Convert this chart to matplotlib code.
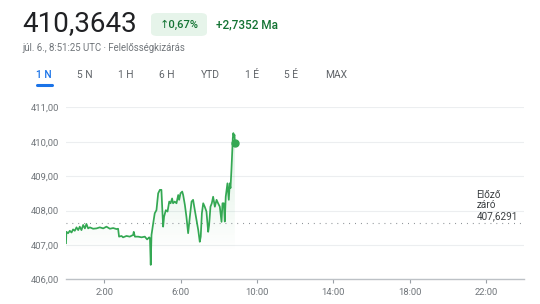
import numpy as np
import matplotlib.pyplot as plt
from matplotlib.patches import FancyBboxPatch
from matplotlib.colors import LinearSegmentedColormap

plt.rcParams['font.family'] = ['Roboto', 'DejaVu Sans']

# price path (hours UTC, value)
hours = [0.0, 0.02, 0.11, 0.2, 0.29, 0.37, 0.46, 0.55, 0.64, 0.72, 0.81, 0.9, 0.99,
         1.07, 1.16, 1.25, 1.42, 1.6, 1.77, 1.95, 2.12, 2.3, 2.47, 2.65, 2.73, 2.78,
         2.91, 2.99, 3.17, 3.34, 3.52, 3.55, 3.61, 3.78, 3.96, 4.13, 4.25, 4.36, 4.4,
         4.44, 4.48, 4.57, 4.65, 4.74, 4.83, 4.92, 5.0, 5.04, 5.09, 5.14, 5.23, 5.32,
         5.41, 5.48, 5.56, 5.61, 5.7, 5.79, 5.88, 5.93, 6.0, 6.09, 6.14, 6.23, 6.31,
         6.4, 6.49, 6.58, 6.66, 6.75, 6.84, 6.93, 7.01, 7.06, 7.12, 7.19, 7.27, 7.36,
         7.45, 7.5, 7.57, 7.64, 7.71, 7.8, 7.89, 7.97, 8.06, 8.15, 8.2, 8.27, 8.32,
         8.37, 8.46, 8.53, 8.58, 8.62, 8.67, 8.71, 8.74, 8.77, 8.8, 8.83, 8.85]
prices = [407.05, 407.38, 407.34, 407.41, 407.36, 407.45, 407.41, 407.51, 407.43, 407.53,
          407.43, 407.58, 407.48, 407.61, 407.48, 407.51, 407.47, 407.48, 407.51, 407.48,
          407.53, 407.47, 407.49, 407.46, 407.47, 407.24, 407.26, 407.22, 407.26, 407.24,
          407.29, 407.38, 407.24, 407.24, 407.22, 407.24, 407.16, 407.22, 407.19,
          406.42, 407.29, 407.63, 407.92, 408.01, 408.5, 408.6, 408.6, 408.11, 407.53,
          407.82, 408.01, 407.97, 408.26, 408.21, 408.35, 408.21, 408.26, 408.21, 408.45,
          408.31, 408.5, 408.55, 408.45, 408.16, 407.82, 407.34, 407.82, 408.26, 408.31,
          408.01, 407.72, 407.43, 407.09, 407.24, 407.92, 408.21, 408.11, 407.97, 407.38,
          407.58, 408.11, 408.21, 408.4, 408.11, 408.31, 408.21, 408.11, 407.67, 408.21,
          408.21, 407.68, 408.4, 408.79, 408.31, 408.79, 408.65, 409.2, 409.7, 410.1,
          410.25, 410.15, 410.2, 409.97]

prev_close = 407.6291
y_ticks = [406, 407, 408, 409, 410, 411]
x_ticks = [2, 6, 10, 14, 18, 22]
x_labels = ['2:00', '6:00', '10:00', '14:00', '18:00', '22:00']
tabs = ['1 N', '5 N', '1 H', '6 H', 'YTD', '1 É', '5 É', 'MAX']
tab_x = [44, 84.5, 125.5, 166.5, 210, 252, 291, 336.5]

green = '#34a853'
grey = '#70757a'

fig = plt.figure(figsize=(5.4, 3.04), dpi=100)
W, H = 540, 304

# header
fig.text(22 / W, 1 - 24 / H, '410,3643', fontsize=20, color='#202124', va='center')
badge = FancyBboxPatch((151 / W, 1 - 36 / H), 56 / W, 23 / H,
                       boxstyle='round,pad=0,rounding_size=0.012',
                       transform=fig.transFigure, fc='#e6f4ea', ec='none')
fig.patches.append(badge)
fig.text(179 / W, 1 - 24.5 / H, '↑0,67%', fontsize=8, color='#137333',
         ha='center', va='center', fontweight='medium')
fig.text(216 / W, 1 - 24.5 / H, '+2,7352 Ma', fontsize=8.5, color='#137333',
         va='center', fontweight='medium')
fig.text(22 / W, 1 - 48 / H, 'júl. 6., 8:51:25 UTC · Felelősségkizárás',
         fontsize=6.9, color=grey, va='center')

for t, x in zip(tabs, tab_x):
    fig.text(x / W, 1 - 75 / H, t, fontsize=7.4, ha='center', va='center',
             color='#1a73e8' if t == '1 N' else '#5f6368',
             fontweight='medium' if t == '1 N' else 'normal')
fig.add_artist(plt.Line2D([37 / W, 52 / W], [1 - 85 / H, 1 - 85 / H],
                          color='#1a73e8', lw=2.2, solid_capstyle='round'))

# chart
ax = fig.add_axes([66 / W, 1 - 279.3 / H, 458 / W, 172 / H])
ax.set_xlim(0, 24)
ax.set_ylim(406, 411)

# gradient fill under the line
top = max(prices)
cmap = LinearSegmentedColormap.from_list('g', [(0.2, 0.66, 0.33, 0.0), (0.2, 0.66, 0.33, 0.17)])
grad = np.linspace(0, 1, 200).reshape(-1, 1)
im = ax.imshow(grad, cmap=cmap, extent=[hours[0], hours[-1], 406.8, top],
               origin='lower', aspect='auto', zorder=1)
poly = ax.fill_between(hours, prices, 406, color='none', lw=0)
im.set_clip_path(poly.get_paths()[0], transform=ax.transData)

ax.plot(hours, prices, color=green, lw=1.25, zorder=3, solid_joinstyle='round')
ax.plot(hours[-1], prices[-1], 'o', color=green, ms=5, zorder=4)

ax.axhline(prev_close, color='#80868b', lw=0.8, ls=(0, (0.8, 4.5)), zorder=2)
ax.text(21.5, prev_close + 0.06, 'Előző\nzáró\n407,6291', fontsize=7.2,
        color='#3c4043', va='bottom', ha='left', linespacing=1.1)

ax.set_yticks(y_ticks)
ax.set_yticklabels([f'{v},00' for v in y_ticks])
ax.set_xticks(x_ticks)
ax.set_xticklabels(x_labels)
ax.grid(axis='y', color='#eceef0', lw=0.8)
ax.set_axisbelow(True)
for s in ['top', 'right', 'left']:
    ax.spines[s].set_visible(False)
ax.spines['bottom'].set_color('#bdc1c6')
ax.spines['bottom'].set_linewidth(1)
ax.tick_params(axis='y', length=0, pad=5, labelsize=6.8, labelcolor=grey)
ax.tick_params(axis='x', length=3, width=0.8, color='#9aa0a6', pad=3,
               labelsize=6.8, labelcolor=grey)

fig.savefig('out.png', dpi=100)
